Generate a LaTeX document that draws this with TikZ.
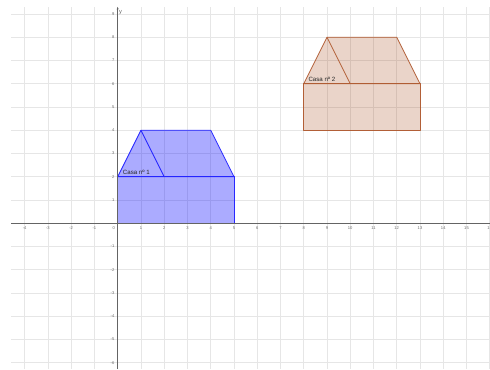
\documentclass[tikz,border=0pt]{standalone}
\usepackage{fontspec}
\setmainfont{Liberation Sans}
\usetikzlibrary{arrows.meta}
\definecolor{gridc}{RGB}{230,230,230}
\definecolor{axisc}{RGB}{100,100,100}
\definecolor{tickc}{RGB}{110,110,110}
\definecolor{blueline}{RGB}{40,40,255}
\definecolor{brownline}{RGB}{178,95,55}
\definecolor{brownfill}{RGB}{160,60,10}
\tikzset{
  gridline/.style={draw=gridc, line width=0.9pt},
  axisline/.style={draw=axisc, line width=0.6pt},
  ticklbl/.style={text=tickc, font=\fontsize{5}{6}\selectfont, inner sep=0.5pt},
  house1/.style={draw=blueline, line width=1pt, fill=blue, fill opacity=0.33, line join=round},
  house2/.style={draw=brownline, line width=1pt, fill=brownfill, fill opacity=0.22, line join=round},
  casalbl/.style={font=\fontsize{7.5}{9}\selectfont, text=black!85, inner sep=0pt, anchor=south west}
}
\begin{document}
\begin{tikzpicture}
\useasboundingbox (-5.06,-6.27) rectangle (16.01,9.60);
\fill[white] (-5.06,-6.27) rectangle (16.01,9.60);
% grid
\foreach \x in {-4,...,16} \draw[gridline] (\x,-6.27) -- (\x,9.30);
\foreach \y in {-6,...,9} \draw[gridline] (-4.58,\y) -- (16.01,\y);
% houses
\draw[house1] (0,0) -- (5,0) -- (5,2) -- (0,2) -- cycle;
\draw[house1] (0,2) -- (1,4) -- (4,4) -- (5,2) -- cycle;
\draw[draw=blueline, line width=1pt] (1,4) -- (2,2);
\draw[house2] (8,4) -- (13,4) -- (13,6) -- (8,6) -- cycle;
\draw[house2] (8,6) -- (9,8) -- (12,8) -- (13,6) -- cycle;
\draw[draw=brownline, line width=1pt] (9,8) -- (10,6);
% axes
\draw[axisline] (-4.58,0) -- (16.01,0);
\draw[axisline, -{Stealth[length=3pt,width=2.5pt]}] (0,-6.27) -- (0,9.30);
\node[text=axisc, font=\fontsize{7}{8}\selectfont, anchor=west, inner sep=1pt] (ylab) at (0.02,9.05) {y};
% tick labels
\foreach \x in {-4,...,-1,1,2,...,16} \node[ticklbl, anchor=north] at (\x,-0.12) {\x};
\foreach \y in {-6,...,-1,1,2,...,9} \node[ticklbl, anchor=east] at (-0.12,\y) {\y};
\node[ticklbl, anchor=north east] (o) at (-0.1,-0.12) {0};
% labels
\node[casalbl] (c1) at (0.22,2.08) {Casa nº 1};
\node[casalbl] (c2) at (8.2,6.08) {Casa nº 2};
\end{tikzpicture}
\end{document}
